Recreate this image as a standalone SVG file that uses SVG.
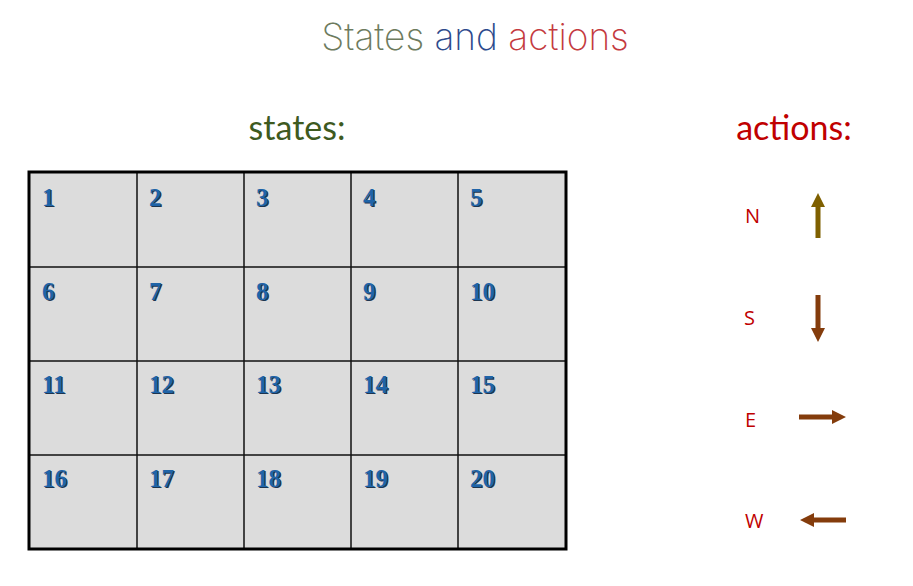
<svg xmlns="http://www.w3.org/2000/svg" width="913" height="586" viewBox="0 0 913 586">
<defs>
<style>
.num{font-family:"Liberation Serif",serif;font-weight:bold;font-size:25px;fill:#1f64a8;}
.sh{font-family:"Liberation Serif",serif;font-weight:bold;font-size:25px;fill:#1d3550;}
.cell{fill:#dcdcdc;stroke:#111;stroke-width:1.5;}
.lbl{font-family:"Open Sans","Liberation Sans",sans-serif;font-size:20px;fill:#c00000;}
.head{font-family:"Lato","Open Sans",sans-serif;font-size:34px;}
</style>
</defs>
<rect width="913" height="586" fill="#fff"/>
<text x="475" y="50" text-anchor="middle" font-family="Inter,'Liberation Sans',sans-serif" font-weight="200" font-size="37"><tspan fill="#6d7b5e">States </tspan><tspan fill="#2d4a8c">and </tspan><tspan fill="#c43a40">actions</tspan></text>
<text class="head" x="297" y="140" text-anchor="middle" fill="#3e5a1f">states:</text>
<text class="head" x="794" y="140" text-anchor="middle" fill="#c00000">actions:</text>
<g id="grid">
<rect x="29" y="172" width="537" height="377" class="cell"/>
<g stroke="#111" stroke-width="1.5">
<line x1="137" y1="172" x2="137" y2="549"/>
<line x1="244" y1="172" x2="244" y2="549"/>
<line x1="351" y1="172" x2="351" y2="549"/>
<line x1="458" y1="172" x2="458" y2="549"/>
<line x1="29" y1="267" x2="566" y2="267"/>
<line x1="29" y1="361" x2="566" y2="361"/>
<line x1="29" y1="455" x2="566" y2="455"/>
</g>
<rect x="29" y="172" width="537" height="377" fill="none" stroke="#000" stroke-width="3"/>
<g transform="translate(1.2,1.2)">
<text class="sh" x="42" y="206">1</text><text class="sh" x="149" y="206">2</text><text class="sh" x="256" y="206">3</text><text class="sh" x="363" y="206">4</text><text class="sh" x="470" y="206">5</text>
<text class="sh" x="42" y="300">6</text><text class="sh" x="149" y="300">7</text><text class="sh" x="256" y="300">8</text><text class="sh" x="363" y="300">9</text><text class="sh" x="470" y="300">10</text>
<text class="sh" x="42" y="393">11</text><text class="sh" x="149" y="393">12</text><text class="sh" x="256" y="393">13</text><text class="sh" x="363" y="393">14</text><text class="sh" x="470" y="393">15</text>
<text class="sh" x="42" y="487">16</text><text class="sh" x="149" y="487">17</text><text class="sh" x="256" y="487">18</text><text class="sh" x="363" y="487">19</text><text class="sh" x="470" y="487">20</text>
</g>
<text class="num" x="42" y="206">1</text><text class="num" x="149" y="206">2</text><text class="num" x="256" y="206">3</text><text class="num" x="363" y="206">4</text><text class="num" x="470" y="206">5</text>
<text class="num" x="42" y="300">6</text><text class="num" x="149" y="300">7</text><text class="num" x="256" y="300">8</text><text class="num" x="363" y="300">9</text><text class="num" x="470" y="300">10</text>
<text class="num" x="42" y="393">11</text><text class="num" x="149" y="393">12</text><text class="num" x="256" y="393">13</text><text class="num" x="363" y="393">14</text><text class="num" x="470" y="393">15</text>
<text class="num" x="42" y="487">16</text><text class="num" x="149" y="487">17</text><text class="num" x="256" y="487">18</text><text class="num" x="363" y="487">19</text><text class="num" x="470" y="487">20</text>
</g>
<g id="action-N">
<text class="lbl" x="745" y="223">N</text>
<polygon points="815.5,238 820.5,238 820.5,207 825,207 818,193 811,207 815.5,207" fill="#7f6000"/>
</g>
<g id="action-S">
<text class="lbl" x="744" y="325">S</text>
<polygon points="815.5,295 820.5,295 820.5,328 825,328 818,342 811,328 815.5,328" fill="#843c0c"/>
</g>
<g id="action-E">
<text class="lbl" x="745" y="427">E</text>
<polygon points="799,414.5 832,414.5 832,410 846,417 832,424 832,419.5 799,419.5" fill="#843c0c"/>
</g>
<g id="action-W">
<text class="lbl" x="745" y="528">W</text>
<polygon points="846,517.5 814,517.5 814,513 800,520 814,527 814,522.5 846,522.5" fill="#843c0c"/>
</g>
</svg>
